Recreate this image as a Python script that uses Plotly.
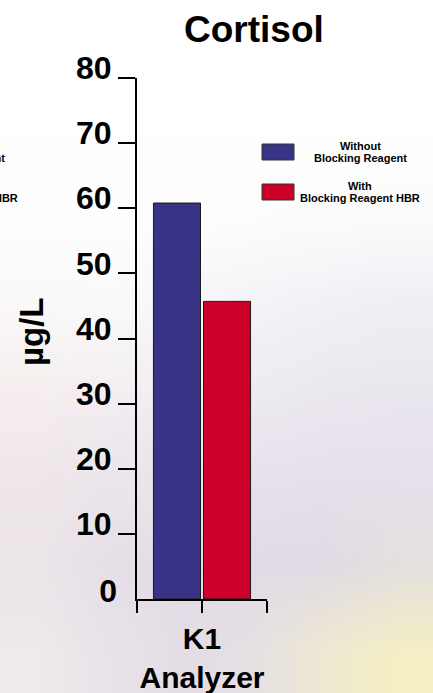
import base64
import struct
import zlib

import plotly.graph_objects as go

# ---------------- data ----------------
categories = ["K1<br>Analyzer"]
series_names = ["Without<br>Blocking Reagent", "With<br>Blocking Reagent HBR"]
without_reagent = [60.8]
with_reagent_hbr = [45.7]
y_tick_values = [10, 20, 30, 40, 50, 60, 70, 80]
y_zero_tick = [0]
title_text = "Cortisol"
y_title_text = "µg/L"

# ---------------- style ----------------
W, H = 433, 693
L, R, T, B = 137, 267, 78, 599  # plot area in pixels
BLUE = "#383385"
RED = "#cc0029"
FONT = "Liberation Sans"


def px(x):
    return (x - L) / (R - L)


def py(y):
    return (B - y) / (B - T)


def hexrgb(h):
    h = h.lstrip("#")
    return tuple(int(h[i:i + 2], 16) for i in (0, 2, 4))


def png_uri(rows):
    h = len(rows)
    w = len(rows[0])
    raw = b"".join(b"\x00" + bytes([c for px_ in row for c in hexrgb(px_)]) for row in rows)

    def chunk(tag, data):
        c = struct.pack(">I", len(data)) + tag + data
        return c + struct.pack(">I", zlib.crc32(tag + data) & 0xFFFFFFFF)

    png = b"\x89PNG\r\n\x1a\n"
    png += chunk(b"IHDR", struct.pack(">IIBBBBB", w, h, 8, 2, 0, 0, 0))
    png += chunk(b"IDAT", zlib.compress(raw, 9))
    png += chunk(b"IEND", b"")
    return "data:image/png;base64," + base64.b64encode(png).decode()


bg_rows = [
    ["#ffffff", "#ffffff", "#ffffff", "#ffffff", "#ffffff", "#ffffff"],
    ["#ffffff", "#ffffff", "#ffffff", "#ffffff", "#ffffff", "#ffffff"],
    ["#fefefe", "#fefefe", "#fefefe", "#fdfdfe", "#fcfcfd", "#fbfbfc"],
    ["#fbf9f8", "#fafafb", "#f7f6f9", "#f4f3f7", "#f2f0f5", "#f0eef4"],
    ["#f6eeee", "#f3eef2", "#f1eef4", "#eeebf2", "#ece8f0", "#ebe7ef"],
    ["#efe7ea", "#ece6ec", "#e9e4ec", "#e7e1eb", "#e6e0ea", "#e5e0ea"],
    ["#ece5ea", "#e6dfe7", "#e3dce6", "#e2dbe6", "#e1dae4", "#e5e0de"],
    ["#efeaed", "#e9e3e9", "#e4dde6", "#e6e0e3", "#efead2", "#f4efc4"],
]
# pad the tiny image by repeating its border so edge smoothing happens off-page
padded = [[r[0]] + r + [r[-1]] for r in bg_rows]
padded = [padded[0]] + padded + [padded[-1]]
cell_w = W / len(bg_rows[0])
cell_h = H / len(bg_rows)

fig = go.Figure()
x_pos = list(range(len(categories)))
for name, vals, col in zip(series_names, [without_reagent, with_reagent_hbr], [BLUE, RED]):
    fig.add_trace(go.Bar(
        x=x_pos, y=vals, name=name,
        marker=dict(color=col, line=dict(color="#1a1a1a", width=1)),
        showlegend=False, hoverinfo="skip",
    ))
# empty trace so the secondary y axis (carrying the "0" label) is drawn
fig.add_trace(go.Scatter(x=[], y=[], yaxis="y2", showlegend=False, hoverinfo="skip"))

y_tick_font = dict(family=FONT, size=32, color="black", weight=700)
x_tick_font = dict(family=FONT, size=30, color="black", weight=700)

fig.update_layout(
    width=W, height=H,
    margin=dict(l=L, r=W - R, t=T, b=H - B, pad=0, autoexpand=False),
    paper_bgcolor="white",
    plot_bgcolor="rgba(0,0,0,0)",
    barmode="group",
    bargap=0.23,
    bargroupgap=0.06,
    xaxis=dict(
        range=[-0.5, len(categories) - 0.5],
        tickvals=[-0.5] + x_pos + [len(categories) - 0.5],
        ticktext=[""] + categories + [""],
        ticks="outside", ticklen=12, tickwidth=2, tickcolor="black",
        showline=True, linewidth=2, linecolor="black",
        showgrid=False, zeroline=False, automargin=False,
        tickfont=x_tick_font,
        ticklabelstandoff=0,
    ),
    yaxis=dict(
        range=[0, 80],
        tickvals=y_tick_values,
        ticks="outside", ticklen=17, tickwidth=1.5, tickcolor="black",
        showline=True, linewidth=2, linecolor="black",
        showgrid=False, zeroline=False, automargin=False,
        tickfont=y_tick_font,
        ticklabelshift=-10,
        ticklabelstandoff=0,
    ),
    yaxis2=dict(
        range=[0, 80], overlaying="y", side="left", anchor="x",
        tickvals=y_zero_tick, ticks="",
        showline=False, showgrid=False, zeroline=False, automargin=False,
        tickfont=y_tick_font,
        ticklabelshift=-8,
        ticklabelstandoff=19,
    ),
    images=[dict(
        source=png_uri(padded), xref="paper", yref="paper",
        x=px(-cell_w), y=py(-cell_h),
        sizex=(W + 2 * cell_w) / (R - L), sizey=(H + 2 * cell_h) / (B - T),
        xanchor="left", yanchor="top", sizing="stretch", layer="below",
    )],
)

annotations = []
# title
annotations.append(dict(
    text=title_text, x=px(254), y=py(29), xref="paper", yref="paper",
    xanchor="center", yanchor="middle", showarrow=False,
    font=dict(family=FONT, size=37, color="black", weight=700),
))
# y axis title
annotations.append(dict(
    text=y_title_text, x=px(31), y=py(332), xref="paper", yref="paper",
    xanchor="center", yanchor="middle", showarrow=False, textangle=-90,
    font=dict(family=FONT, size=33, color="black", weight=700),
))

# custom legend (and its faint shifted copy at the left edge)
leg_font = dict(family=FONT, size=11, color="black", weight=700)
legend_colors = [BLUE, RED]
swatch_tops = [144, 184]
text_centers = [152, 192]
shapes = []
for name, col, top, tc in zip(series_names, legend_colors, swatch_tops, text_centers):
    shapes.append(dict(
        type="rect", xref="paper", yref="paper",
        x0=px(262), x1=px(294), y0=py(top), y1=py(top + 16),
        fillcolor=col, line=dict(color="#333333", width=1),
    ))
    lines = name.split("<br>")
    for i, ln in enumerate(lines):
        yy = tc - 6 + i * 12
        for cx in (360, 360 - 402):
            annotations.append(dict(
                text=ln, x=px(cx), y=py(yy), xref="paper", yref="paper",
                xanchor="center", yanchor="middle", showarrow=False, font=leg_font,
            ))

fig.update_layout(annotations=annotations, shapes=shapes)
fig.write_html(
    "out.html",
    config={"displayModeBar": False},
    post_script="document.body.style.margin='0';document.body.style.overflow='hidden';",
)
